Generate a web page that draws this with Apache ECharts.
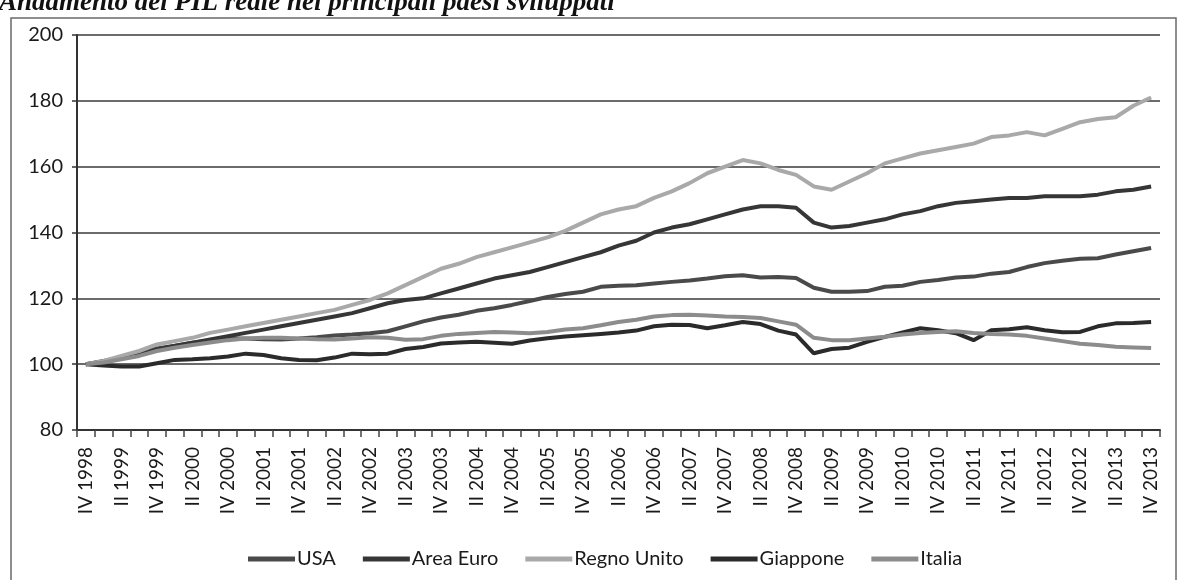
<!DOCTYPE html>
<html>
<head>
<meta charset="utf-8">
<script src="https://cdn.jsdelivr.net/npm/echarts@6/dist/echarts.min.js"></script>
<style>
html,body{margin:0;padding:0;background:#fff;}
#chart{width:1181px;height:580px;}
</style>
</head>
<body>
<div id="chart"></div>
<script>
// Quarters IV 1998 .. IV 2013 (61 quarters)
const quarterNames = ['I', 'II', 'III', 'IV'];
const categories = ['IV 1998'];
for (let y = 1999; y <= 2013; y++) {
  for (let q = 0; q < 4; q++) categories.push(quarterNames[q] + ' ' + y);
}

const seriesNames = ['USA', 'Area Euro', 'Regno Unito', 'Giappone', 'Italia'];

const usa = [100, 101, 102, 103.3, 104.8, 105.6, 106.5, 107.2, 107.8, 107.8,
  107.6, 107.5, 107.8, 108.2, 108.7, 109, 109.4, 110, 111.5, 113,
  114.2, 115, 116.2, 117, 118, 119.2, 120.4, 121.3, 122, 123.5,
  123.8, 124, 124.5, 125, 125.4, 126, 126.7, 127, 126.3, 126.5,
  126.2, 123.2, 122, 122, 122.2, 123.5, 123.8, 125, 125.6, 126.3,
  126.6, 127.5, 128, 129.5, 130.7, 131.4, 132, 132.2, 133.3, 134.3, 135.3];

const areaEuro = [100, 100.8, 101.8, 103, 104.5, 105.5, 106.5, 107.5, 108.5, 109.5,
  110.5, 111.5, 112.5, 113.5, 114.5, 115.5, 117, 118.5, 119.5, 120,
  121.5, 123, 124.5, 126, 127, 128, 129.5, 131, 132.5, 134,
  136, 137.5, 140, 141.5, 142.5, 144, 145.5, 147, 148, 148,
  147.5, 143, 141.5, 142, 143, 144, 145.5, 146.5, 148, 149,
  149.5, 150, 150.5, 150.5, 151, 151, 151, 151.5, 152.5, 153, 154];

const regnoUnito = [100, 101, 102.5, 104, 106, 107, 108, 109.5, 110.5, 111.5,
  112.5, 113.5, 114.5, 115.5, 116.5, 118, 119.5, 121.5, 124, 126.5,
  129, 130.5, 132.5, 134, 135.5, 137, 138.5, 140.5, 143, 145.5,
  147, 148, 150.5, 152.5, 155, 158, 160, 162, 161, 159,
  157.5, 154, 153, 155.5, 158, 161, 162.5, 164, 165, 166,
  167, 169, 169.5, 170.5, 169.5, 171.5, 173.5, 174.5, 175, 178.5, 181];

const giappone = [100, 99.6, 99.3, 99.3, 100.3, 101.3, 101.5, 101.8, 102.3, 103.2,
  102.8, 101.8, 101.3, 101.2, 102, 103.2, 103, 103.2, 104.6, 105.2,
  106.3, 106.6, 106.8, 106.5, 106.2, 107.2, 107.9, 108.4, 108.8, 109.2,
  109.6, 110.2, 111.5, 112, 111.9, 110.9, 111.8, 112.8, 112.2, 110.2,
  109, 103.3, 104.6, 105, 106.8, 108.3, 109.6, 110.9, 110.3, 109.4,
  107.3, 110.3, 110.6, 111.2, 110.3, 109.7, 109.8, 111.5, 112.4, 112.5, 112.8];

const italia = [100, 100.5, 101.5, 102.5, 104, 105, 105.8, 106.6, 107.3, 107.8,
  108, 108, 107.8, 107.6, 107.5, 107.8, 108.2, 108, 107.4, 107.6,
  108.6, 109.2, 109.5, 109.8, 109.6, 109.4, 109.8, 110.5, 110.9, 111.8,
  112.8, 113.5, 114.5, 114.9, 115, 114.8, 114.5, 114.3, 114, 113,
  112, 108, 107.3, 107.3, 107.8, 108.3, 109, 109.5, 109.8, 110,
  109.5, 109.2, 109, 108.6, 107.8, 107, 106.2, 105.8, 105.3, 105.1, 104.9];

const yTicks = [80, 100, 120, 140, 160, 180, 200];

const seriesData = [usa, areaEuro, regnoUnito, giappone, italia];
const seriesColors = ['#4a4a4a', '#363636', '#a9a9a9', '#2b2b2b', '#8c8c8c'];

const chart = echarts.init(document.getElementById('chart'), null, {renderer: 'canvas'});
const FONT = 'Lato, "Open Sans", sans-serif';

chart.setOption({
  animation: false,
  backgroundColor: '#fff',
  graphic: [
    {
      type: 'rect',
      shape: {x: 11, y: 18, width: 1165, height: 600},
      style: {fill: 'none', stroke: '#6a6a6a', lineWidth: 1.5},
      silent: true
    },
    {
      type: 'text',
      x: -1, y: -10,
      style: {
        text: 'Andamento del PIL reale nei principali paesi sviluppati',
        font: 'italic bold 27px "Liberation Serif", "DejaVu Serif", serif',
        fill: '#111',
        verticalAlign: 'top'
      },
      silent: true
    }
  ],
  grid: {left: 77, right: 21, top: 35, bottom: 150, containLabel: false},
  legend: {
    data: seriesNames,
    left: 243,
    top: 544,
    icon: 'rect',
    itemWidth: 47,
    itemHeight: 5,
    itemGap: 27,
    textStyle: {fontFamily: FONT, fontSize: 20, color: '#1a1a1a', padding: [0, 0, 0, -3]}
  },
  xAxis: {
    type: 'category',
    data: categories,
    boundaryGap: true,
    axisLine: {show: true, lineStyle: {color: '#333', width: 2}},
    axisTick: {show: true, interval: 0, length: 7, lineStyle: {color: '#444', width: 1.5}},
    axisLabel: {
      interval: 1,
      rotate: 90,
      margin: 17,
      fontFamily: FONT,
      fontSize: 19,
      color: '#1a1a1a'
    },
    splitLine: {show: false}
  },
  yAxis: {
    type: 'value',
    min: 80,
    max: 200,
    interval: 20,
    axisLine: {show: true, lineStyle: {color: '#333', width: 2}},
    axisTick: {show: true, length: 5, lineStyle: {color: '#333', width: 1.5}},
    axisLabel: {
      margin: 14,
      fontFamily: FONT,
      fontSize: 20,
      color: '#1a1a1a',
      formatter: function (v) { return yTicks.indexOf(v) >= 0 ? String(v) : ''; }
    },
    splitLine: {show: true, lineStyle: {color: '#3a3a3a', width: 1.5}}
  },
  series: seriesNames.map(function (name, k) {
    return {
      name: name,
      type: 'line',
      data: seriesData[k],
      showSymbol: false,
      symbol: 'none',
      smooth: false,
      color: seriesColors[k],
      lineStyle: {width: 4, color: seriesColors[k]},
      z: 3 + k
    };
  })
});
</script>
</body>
</html>
